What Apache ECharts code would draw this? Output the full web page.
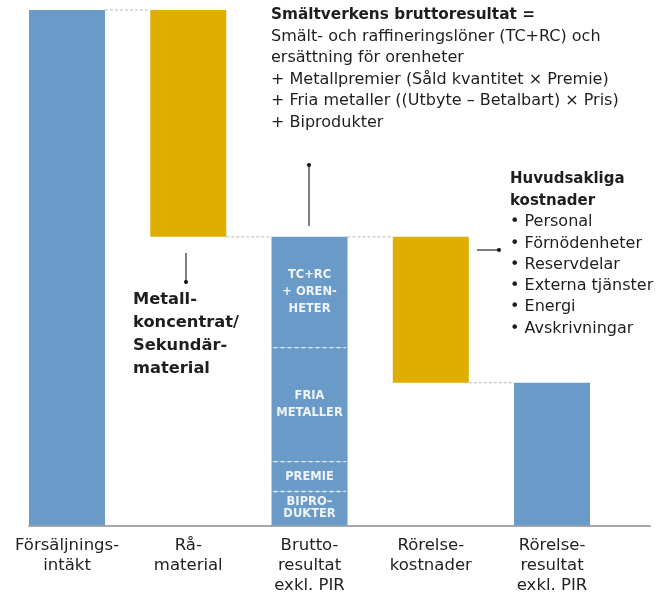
<!DOCTYPE html>
<html><head><meta charset="utf-8">
<script src="https://cdn.jsdelivr.net/npm/echarts@6/dist/echarts.min.js"></script>
<style>html,body{margin:0;padding:0;background:#fff}#c{width:669px;height:599px}</style>
</head><body><div id="c"></div>
<script>
// ---- data ----
const categories = ['Försäljnings-\nintäkt', 'Rå-\nmaterial', 'Brutto-\nresultat\nexkl. PIR', 'Rörelse-\nkostnader', 'Rörelse-\nresultat\nexkl. PIR'];
const salesRevenue = 100;
const rawMaterial = 44;
const grossSegmentNames = ['BIPRO–\nDUKTER', 'PREMIE', 'FRIA\nMETALLER', 'TC+RC\n+ OREN-\nHETER'];
const grossSegmentValues = [6.6, 5.8, 22.1, 21.5];
const operatingCosts = 28.3;
const operatingResult = 27.7;

// ---- derived ----
const grossProfit = grossSegmentValues.reduce((a, b) => a + b, 0);
const afterRaw = salesRevenue - rawMaterial;
const afterCosts = grossProfit - operatingCosts;
const baseData = ['-', afterRaw, '-', afterCosts, '-'];
const blueData = [salesRevenue, '-', '-', '-', operatingResult];
const goldData = ['-', rawMaterial, '-', operatingCosts, '-'];
const connectors = [[0, salesRevenue], [1, afterRaw], [2, grossProfit], [3, operatingResult]];
const separators = [];
{ let s = 0; for (let i = 0; i < grossSegmentValues.length - 1; i++) { s += grossSegmentValues[i]; separators.push([2, s]); } }

const BLUE = '#6A9BC8', GOLD = '#E0AE00';
const BARW = 76;
const FONT = '"DejaVu Sans"';
const INK = '#1e1e1e';

const segSeries = grossSegmentValues.map((v, i) => ({
  type: 'bar', stack: 'w', barWidth: BARW, name: grossSegmentNames[i],
  data: categories.map((c, k) => k === 2 ? v : '-'),
  itemStyle: { color: BLUE },
  label: {
    show: true, position: 'inside', formatter: grossSegmentNames[i],
    color: '#eef3f8', fontWeight: 'bold', fontSize: 11.5, fontFamily: FONT,
    lineHeight: i === 0 ? 12 : 17
  }
}));

const chart = echarts.init(document.getElementById('c'), null, { renderer: 'canvas' });
chart.setOption({
  animation: false,
  grid: [
    { left: 6.4, width: 606.25, top: 10, height: 515.5 },
    { left: 29, right: 19, top: 10, height: 515.5 }
  ],
  xAxis: [
    { type: 'category', data: categories, gridIndex: 0,
      axisLine: { show: false }, axisTick: { show: false },
      axisLabel: { color: '#222', fontSize: 16.5, lineHeight: 20, fontFamily: FONT, margin: 10, interval: 0 } },
    { type: 'value', gridIndex: 1, min: 0, max: 1,
      axisLine: { show: true, lineStyle: { color: '#a8a8a8', width: 2 } },
      axisTick: { show: false }, axisLabel: { show: false }, splitLine: { show: false } }
  ],
  yAxis: [
    { type: 'value', gridIndex: 0, min: 0, max: 100, show: false },
    { type: 'value', gridIndex: 1, min: 0, max: 1, show: false }
  ],
  series: [
    { type: 'bar', stack: 'w', barWidth: BARW, data: baseData, itemStyle: { color: 'rgba(0,0,0,0)' }, silent: true },
    { type: 'bar', stack: 'w', barWidth: BARW, data: blueData, itemStyle: { color: BLUE } },
    { type: 'bar', stack: 'w', barWidth: BARW, data: goldData, itemStyle: { color: GOLD } },
    ...segSeries,
    { type: 'custom', data: connectors, encode: { x: 0, y: 1 }, z: 5,
      renderItem: (params, api) => {
        const p0 = api.coord([api.value(0), api.value(1)]);
        const p1 = api.coord([api.value(0) + 1, api.value(1)]);
        return { type: 'line', shape: { x1: p0[0] + BARW / 2, y1: p0[1], x2: p1[0] - BARW / 2, y2: p1[1] },
          style: { stroke: '#b8b8b8', lineWidth: 1, lineDash: [3, 2] } };
      } },
    { type: 'custom', data: separators, encode: { x: 0, y: 1 }, z: 5,
      renderItem: (params, api) => {
        const p = api.coord([api.value(0), api.value(1)]);
        return { type: 'line', shape: { x1: p[0] - BARW / 2 + 2, y1: p[1], x2: p[0] + BARW / 2 - 2, y2: p[1] },
          style: { stroke: '#e4ecf5', lineWidth: 1.3, lineDash: [4, 3] } };
      } }
  ],
  graphic: [
    { type: 'text', left: 271, top: 8, style: {
        text: '{b|Smältverkens bruttoresultat =}\n{n|Smält- och raffineringslöner (TC+RC) och}\n{n|ersättning för orenheter}\n{n|+ Metallpremier (Såld kvantitet × Premie)}\n{n|+ Fria metaller ((Utbyte – Betalbart) × Pris)}\n{n|+ Biprodukter}',
        rich: { b: { fontWeight: 'bold', fontSize: 15.3, lineHeight: 21.4, fill: INK, fontFamily: FONT },
                n: { fontSize: 16, lineHeight: 21.4, fill: INK, fontFamily: FONT } } } },
    { type: 'text', left: 133, top: 288, style: {
        text: 'Metall-\nkoncentrat/\nSekundär-\nmaterial', fontWeight: 'bold', fontSize: 16.3, lineHeight: 23,
        fill: INK, fontFamily: FONT } },
    { type: 'text', left: 510, top: 172, style: {
        text: '{b|Huvudsakliga}\n{b|kostnader}\n{n|• Personal}\n{n|• Förnödenheter}\n{n|• Reservdelar}\n{n|• Externa tjänster}\n{n|• Energi}\n{n|• Avskrivningar}',
        rich: { b: { fontWeight: 'bold', fontSize: 15, lineHeight: 21.3, fill: INK, fontFamily: FONT },
                n: { fontSize: 16, lineHeight: 21.3, fill: INK, fontFamily: FONT } } } },
    // arrows
    { type: 'line', shape: { x1: 309, y1: 226, x2: 309, y2: 165 }, style: { stroke: '#555', lineWidth: 1.5 } },
    { type: 'circle', shape: { cx: 309, cy: 165, r: 2 }, style: { fill: '#111' } },
    { type: 'line', shape: { x1: 186, y1: 253, x2: 186, y2: 282 }, style: { stroke: '#555', lineWidth: 1.5 } },
    { type: 'circle', shape: { cx: 186, cy: 282, r: 2 }, style: { fill: '#111' } },
    { type: 'line', shape: { x1: 477, y1: 250, x2: 499, y2: 250 }, style: { stroke: '#555', lineWidth: 1.5 } },
    { type: 'circle', shape: { cx: 499, cy: 250, r: 2 }, style: { fill: '#111' } }
  ]
});
</script></body></html>
